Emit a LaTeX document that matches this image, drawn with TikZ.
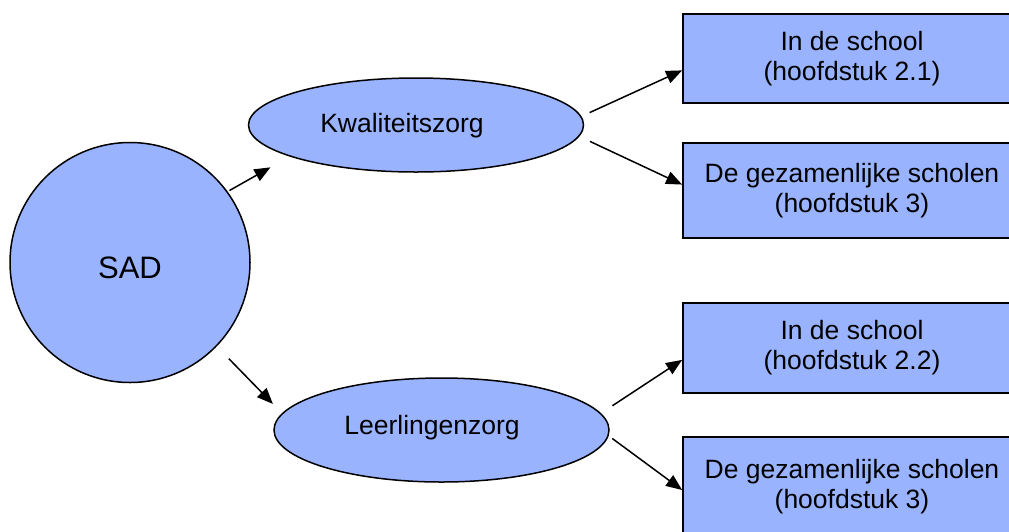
\documentclass[tikz,border=0pt]{standalone}
\usepackage{fontspec}
\setmainfont{Liberation Sans}
\usetikzlibrary{shapes.geometric,arrows.meta}
\definecolor{fillblue}{HTML}{99B3FF}
\begin{document}
\begin{tikzpicture}[x=1pt,y=-1pt,
  shapefill/.style={fill=fillblue,draw=black,line width=1.5pt,inner sep=0pt},
  circ/.style={shapefill,circle,minimum size=240pt},
  ell/.style={shapefill,ellipse},
  boxnode/.style={fill=fillblue,draw=black,line width=1.8pt,rectangle,inner sep=0pt,
     minimum width=338pt,align=center,font=\fontsize{26.5}{30}\selectfont},
  txt/.style={inner sep=0pt,font=\fontsize{26.5}{30}\selectfont},
  arr/.style={line width=1.5pt,-{Triangle[length=16pt,width=13pt]}}]
\useasboundingbox (0,0) rectangle (1009,531);
% main shapes
\node[circ] (sad) at (130,262.5) {};
\node[txt,font=\fontsize{31}{34}\selectfont] (sadt) at (130,267.5) {SAD};
\node[ell,minimum width=335pt,minimum height=94pt] (kw) at (416,125) {};
\node[txt] (kwt) at (402,126) {Kwaliteitszorg};
\node[ell,minimum width=335pt,minimum height=104pt] (le) at (441.5,430) {};
\node[txt] (let) at (432,428) {Leerlingenzorg};
% boxes
\node[boxnode,minimum height=89pt] (b1) at (852,58.5) {In de school\\(hoofdstuk 2.1)};
\node[boxnode,minimum height=95pt] (b2) at (852,190.5) {De gezamenlijke scholen\\(hoofdstuk 3)};
\node[boxnode,minimum height=90pt] (b3) at (852,348) {In de school\\(hoofdstuk 2.2)};
\node[boxnode,minimum height=100pt] (b4) at (852,487) {De gezamenlijke scholen\\(hoofdstuk 3)};
% connectors
\draw[arr,shorten <=2pt,shorten >=22pt] (sad.36.5) -- (kw.194.9);
\draw[arr,shorten <=17pt,shorten >=13pt] (sad.-44) -- (le.174.4);
\draw[arr,shorten <=9pt] (kw.3.7) -- (b1.184.5);
\draw[arr,shorten <=11.7pt] (kw.-4.8) -- (b2.178.7);
\draw[arr,shorten <=13.7pt] (le.6) -- (b3.184.6);
\draw[arr,shorten <=4.4pt] (le.-2) -- (b4.181);
\end{tikzpicture}
\end{document}
